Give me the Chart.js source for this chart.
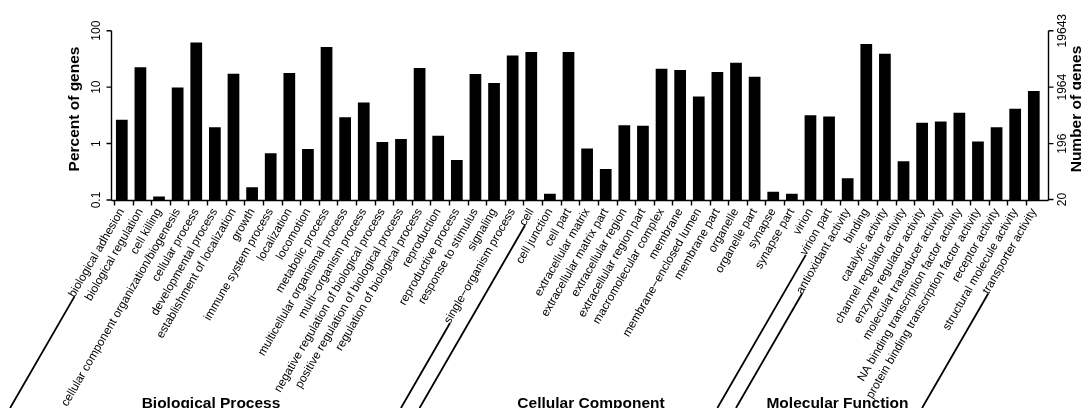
<!DOCTYPE html>
<html>
<head>
<meta charset="utf-8">
<script src="https://cdn.jsdelivr.net/npm/chart.js@4.4.1/dist/chart.umd.min.js"></script>
<style>
  html, body { margin: 0; padding: 0; background: #fff; }
  canvas { display: block; }
</style>
</head>
<body>
<canvas id="go" width="1081" height="408"></canvas>
<script>
// GO term categories, grouped by ontology
const categories = [
  'biological adhesion', 'biological regulation', 'cell killing',
  'cellular component organization/biogenesis', 'cellular process',
  'developmental process', 'establishment of localization', 'growth',
  'immune system process', 'localization', 'locomotion', 'metabolic process',
  'multicellular organismal process', 'multi\u2212organism process',
  'negative regulation of biological process', 'positive regulation of biological process',
  'regulation of biological process', 'reproduction', 'reproductive process',
  'response to stimulus', 'signaling', 'single\u2212organism process',
  'cell', 'cell junction', 'cell part', 'extracellular matrix', 'extracellular matrix part',
  'extracellular region', 'extracellular region part', 'macromolecular complex',
  'membrane', 'membrane\u2212enclosed lumen', 'membrane part', 'organelle', 'organelle part',
  'synapse', 'synapse part', 'virion', 'virion part',
  'antioxidant activity', 'binding', 'catalytic activity', 'channel regulator activity',
  'enzyme regulator activity', 'molecular transducer activity',
  'NA binding transcription factor activity', 'protein binding transcription factor activity',
  'receptor activity', 'structural molecule activity', 'transporter activity'
];

// Percent of annotated genes per term
const percentOfGenes = [
  2.64, 22.4, 0.115, 9.9, 61.5, 1.95, 17.3, 0.168, 0.676, 17.8, 0.805, 51.5,
  2.94, 5.35, 1.07, 1.21, 21.8, 1.37, 0.513, 17.1, 11.8, 36.5,
  42.0, 0.129, 42.0, 0.815, 0.355, 2.12, 2.06, 21.2, 20.1, 6.84, 18.5, 27.1, 15.3,
  0.14, 0.129, 3.19, 3.02,
  0.243, 58.2, 39.2, 0.486, 2.33, 2.46, 3.51, 1.09, 1.95, 4.13, 8.51
];

const groupNames = ['Biological Process', 'Cellular Component', 'Molecular Function'];
const groupSizes = [22, 17, 11];

const percentTicks = [0.1, 1, 10, 100];
const geneCountTicks = [20, 196, 1964, 19643];
const totalGenes = 19643;

const FONT = "'Liberation Sans', Arial, Helvetica, sans-serif";
const LABEL_PAD = -2;
const LABEL_SIZE = 11.8;
const ROT = Math.PI / 3; // 60 degree label slant

// Axes, ticks, titles and ontology separators drawn on top of the bars
const goDecor = {
  id: 'goDecor',
  afterDraw(chart) {
    const { ctx, chartArea, scales } = chart;
    const xs = scales.x, ys = scales.y, y2 = scales.y2;
    const leftX = Math.round(chartArea.left - 2) + 0.5;
    const rightX = Math.round(chartArea.right + 4.5) + 0.5;
    const base = Math.round(ys.getPixelForValue(percentTicks[0])) + 0.5;
    const top = ys.getPixelForValue(percentTicks[percentTicks.length - 1]);

    ctx.save();
    ctx.strokeStyle = '#000';
    ctx.fillStyle = '#000';
    ctx.lineWidth = 1.4;
    ctx.lineCap = 'butt';

    ctx.beginPath();
    // left axis
    ctx.moveTo(leftX, top);
    ctx.lineTo(leftX, base);
    percentTicks.forEach(v => {
      const py = ys.getPixelForValue(v);
      ctx.moveTo(leftX, py);
      ctx.lineTo(leftX - 5, py);
    });
    // right axis
    ctx.moveTo(rightX, y2.getPixelForValue(geneCountTicks[geneCountTicks.length - 1]));
    ctx.lineTo(rightX, base);
    geneCountTicks.forEach(v => {
      const py = y2.getPixelForValue(v);
      ctx.moveTo(rightX, py);
      ctx.lineTo(rightX + 5, py);
    });
    // category axis
    ctx.moveTo(leftX, base);
    ctx.lineTo(rightX, base);
    categories.forEach((c, i) => {
      const px = Math.round(xs.getPixelForValue(i) - 7.8) + 0.5;
      ctx.moveTo(px, base);
      ctx.lineTo(px, base + 5);
    });
    ctx.stroke();

    // axis tick labels, parallel to the axes
    ctx.font = `12px ${FONT}`;
    ctx.textAlign = 'center';
    ctx.textBaseline = 'middle';
    percentTicks.forEach(v => {
      ctx.save();
      ctx.translate(leftX - 15, ys.getPixelForValue(v));
      ctx.rotate(-Math.PI / 2);
      ctx.fillText(String(v), 0, 0);
      ctx.restore();
    });
    geneCountTicks.forEach(v => {
      ctx.save();
      ctx.translate(rightX + 14.5, y2.getPixelForValue(v));
      ctx.rotate(-Math.PI / 2);
      ctx.fillText(String(v), 0, 0);
      ctx.restore();
    });

    // axis titles
    ctx.font = `bold 15.5px ${FONT}`;
    [['Percent of genes', 75], ['Number of genes', 1077]].forEach(([t, px]) => {
      ctx.save();
      ctx.translate(px, 109);
      ctx.rotate(-Math.PI / 2);
      ctx.fillText(t, 0, 0);
      ctx.restore();
    });

    // ontology separators: lines running on from the first and last label of each group
    ctx.font = `${LABEL_SIZE}px ${FONT}`;
    const ux = Math.cos(ROT), uy = -Math.sin(ROT);
    const nx = Math.sin(ROT) * 6.5, ny = Math.cos(ROT) * 6.5; // sit just under the text line
    const endY = chartArea.bottom + LABEL_PAD + LABEL_SIZE * 1.2 / 4;
    const bottom = chart.height;
    ctx.lineWidth = 1.8;
    ctx.beginPath();
    let start = 0;
    groupSizes.forEach(n => {
      [start, start + n - 1].forEach(i => {
        const ex = xs.getPixelForValue(i) + nx;
        const ey = endY + ny;
        const w = ctx.measureText(categories[i]).width;
        const s0 = w + 6;
        const s1 = (bottom - ey) / -uy;
        ctx.moveTo(ex - s0 * ux, ey - s0 * uy);
        ctx.lineTo(ex - s1 * ux, ey - s1 * uy);
      });
      start += n;
    });
    ctx.stroke();

    // ontology titles
    ctx.font = `bold 15.5px ${FONT}`;
    ctx.textAlign = 'center';
    ctx.textBaseline = 'alphabetic';
    [211, 591, 837.5].forEach((px, g) => ctx.fillText(groupNames[g], px, 407.5));

    ctx.restore();
  }
};

new Chart(document.getElementById('go'), {
  type: 'bar',
  data: {
    labels: categories,
    datasets: [{
      data: percentOfGenes,
      backgroundColor: '#000',
      borderWidth: 0,
      barPercentage: 0.63,
      categoryPercentage: 1
    }]
  },
  options: {
    responsive: false,
    animation: false,
    devicePixelRatio: 1,
    layout: { padding: { left: 112.5, right: 37.9, top: 30.7, bottom: 0 } },
    plugins: { legend: { display: false }, tooltip: { enabled: false } },
    scales: {
      x: {
        type: 'category',
        grid: { display: false },
        border: { display: false },
        ticks: {
          autoSkip: false,
          minRotation: 60,
          maxRotation: 60,
          padding: LABEL_PAD,
          color: '#000',
          font: { family: FONT, size: LABEL_SIZE }
        },
        afterFit(scale) { scale.height = 208; }
      },
      y: {
        type: 'logarithmic',
        min: percentTicks[0],
        max: percentTicks[percentTicks.length - 1],
        display: false
      },
      y2: {
        type: 'logarithmic',
        position: 'right',
        min: totalGenes / 1000,
        max: totalGenes,
        display: false
      }
    }
  },
  plugins: [goDecor]
});
</script>
</body>
</html>
